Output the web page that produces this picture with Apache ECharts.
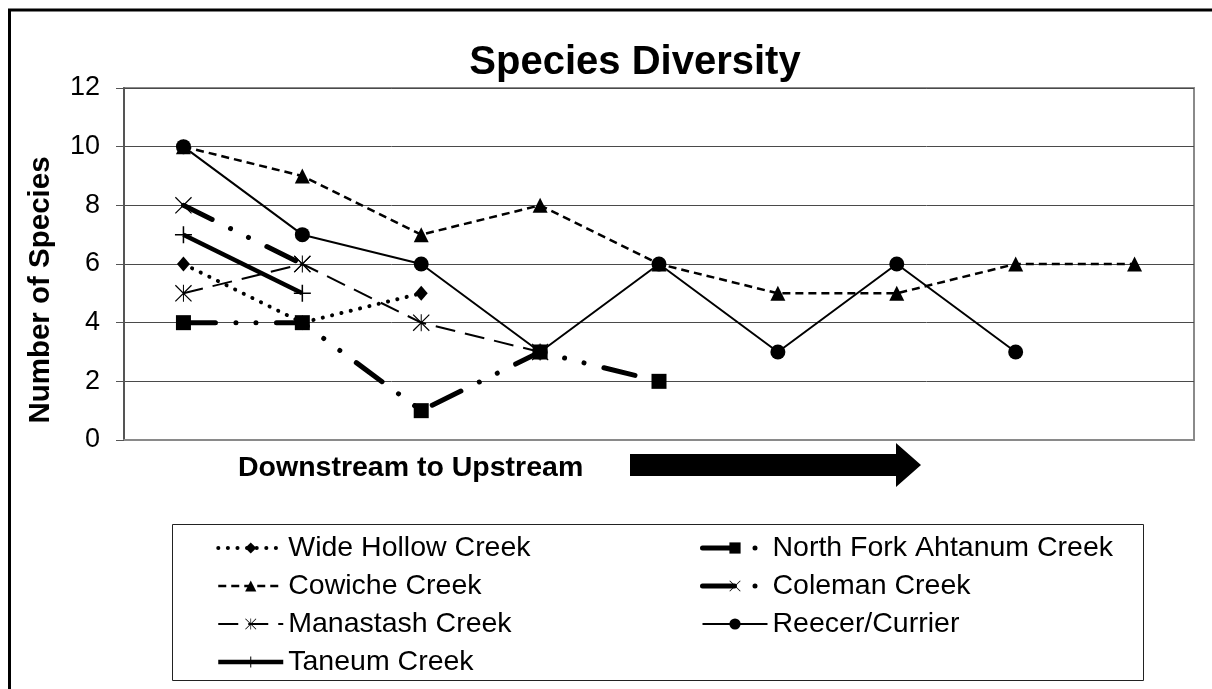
<!DOCTYPE html>
<html>
<head>
<meta charset="utf-8">
<script src="https://cdn.jsdelivr.net/npm/echarts@6/dist/echarts.min.js"></script>
<style>
html,body{margin:0;padding:0;background:#fff;}
#chart{width:1212px;height:689px;}
</style>
</head>
<body>
<div id="chart"></div>
<script>
// ---- data ----
const categories = ['1','2','3','4','5','6','7','8','9'];
const yTicks = [0,2,4,6,8,10,12];
const wideHollow   = [6, 4, 5];
const northFork    = [4, 4, 1, 3, 2];
const cowiche      = [10, 9, 7, 8, 6, 5, 5, 6, 6];
const coleman      = [8, 6];
const manastash    = [5, 6, 4, 3];
const reecer       = [10, 7, 6, 3, 6, 3, 6, 3];
const taneum       = [7, 5];
const seriesNames  = ['Wide Hollow Creek','North Fork Ahtanum Creek','Cowiche Creek','Coleman Creek','Manastash Creek','Reecer/Currier','Taneum Creek'];

const FONT = '"Liberation Sans", Arial, sans-serif';
const X_PATH = 'path://M0,1 L1,0 L20,19 L19,20 Z M19,0 L20,1 L1,20 L0,19 Z';
const AST_PATH = 'path://M0,1 L1,0 L20,19 L19,20 Z M19,0 L20,1 L1,20 L0,19 Z M9.4,0 L10.6,0 L10.6,20 L9.4,20 Z';
const PLUS_PATH = 'path://M8.2,0 H9.8 V8.2 H18 V9.8 H9.8 V18 H8.2 V9.8 H0 V8.2 H8.2 Z';
const dashDot = [32, 20.5, 0.01, 20, 0.01, 20.5];

function mk(name, data, symbol, size, lw, type, cap) {
  return {
    name: name, type: 'line', data: data, symbol: symbol, symbolSize: size,
    showSymbol: true, animation: false,
    lineStyle: { color: '#000', width: lw, type: type, cap: cap || 'butt' },
    itemStyle: { color: '#000', borderWidth: 0 },
    emphasis: { disabled: true }
  };
}

const chart = echarts.init(document.getElementById('chart'), null, {renderer: 'canvas'});
const legendCommon = {
  orient: 'vertical', itemWidth: 65, itemHeight: 14, itemGap: 8,
  textStyle: { fontFamily: FONT, fontSize: 28.5, color: '#000', lineHeight: 30 },
  lineStyle: { width: 'inherit', type: 'inherit' },
  selectedMode: false
};
chart.setOption({
  backgroundColor: '#fff',
  animation: false,
  grid: { left: 124, right: 18, top: 88, bottom: 249, show: true, borderColor: '#8a8a8a', borderWidth: 2, backgroundColor: 'transparent' },
  xAxis: {
    type: 'category', data: categories, boundaryGap: true,
    axisLabel: { show: false }, axisTick: { show: false },
    axisLine: { show: true, lineStyle: { color: '#8a8a8a', width: 2 } }
  },
  yAxis: {
    type: 'value', min: 0, max: 12, interval: 2,
    axisLine: { show: true, lineStyle: { color: '#555', width: 2 } },
    axisTick: { show: true, inside: false, length: 8, lineStyle: { color: '#555', width: 1 } },
    axisLabel: { fontFamily: FONT, fontSize: 27, color: '#000', margin: 24,
      formatter: v => yTicks.includes(v) ? String(v) : '' },
    splitLine: { show: true, lineStyle: { color: '#4a4a4a', width: 1 } }
  },
  legend: [
    Object.assign({}, legendCommon, { left: 211, top: 528, data: [seriesNames[0], seriesNames[2], seriesNames[4], seriesNames[6]] }),
    Object.assign({}, legendCommon, { left: 695, top: 528, data: [seriesNames[1], seriesNames[3], seriesNames[5]] })
  ],
  series: [
    mk(seriesNames[0], wideHollow, 'diamond', [13, 15], 4, [0.1, 9.5], 'round'),
    mk(seriesNames[1], northFork, 'rect', 15, 5, dashDot, 'round'),
    mk(seriesNames[2], cowiche, 'triangle', 15, 2.5, [8, 5], 'butt'),
    mk(seriesNames[3], coleman, X_PATH, 17, 5, dashDot, 'round'),
    mk(seriesNames[4], manastash, AST_PATH, 17, 2, [20, 10], 'butt'),
    mk(seriesNames[5], reecer, 'circle', 15, 2, 'solid', 'butt'),
    mk(seriesNames[6], taneum, PLUS_PATH, 17, 4.5, 'solid', 'butt')
  ],
  graphic: [
    { type: 'polyline', shape: { points: [[9.5, 689], [9.5, 10], [1212, 10]] }, style: { stroke: '#000', lineWidth: 3, fill: null }, silent: true },
    { type: 'rect', shape: { x: 172.5, y: 524.5, width: 971, height: 156 }, style: { stroke: '#222', lineWidth: 1, fill: null }, silent: true, z: -1 },
    { type: 'text', style: { x: 635, y: 63, text: 'Species Diversity', textAlign: 'center', textVerticalAlign: 'middle', fontFamily: FONT, fontSize: 40, fontWeight: 'bold', fill: '#000' }, silent: true },
    { type: 'text', rotation: Math.PI / 2, x: 41, y: 290, style: { x: 0, y: 0, text: 'Number of Species', textAlign: 'center', textVerticalAlign: 'middle', fontFamily: FONT, fontSize: 29.5, fontWeight: 'bold', fill: '#000' }, silent: true },
    { type: 'text', style: { x: 238, y: 468, text: 'Downstream to Upstream', textAlign: 'left', textVerticalAlign: 'middle', fontFamily: FONT, fontSize: 28.5, fontWeight: 'bold', fill: '#000' }, silent: true },
    { type: 'polygon', shape: { points: [[630, 454], [896, 454], [896, 443], [921, 465], [896, 487], [896, 476], [630, 476]] }, style: { fill: '#000' }, silent: true }
  ]
});
</script>
</body>
</html>
